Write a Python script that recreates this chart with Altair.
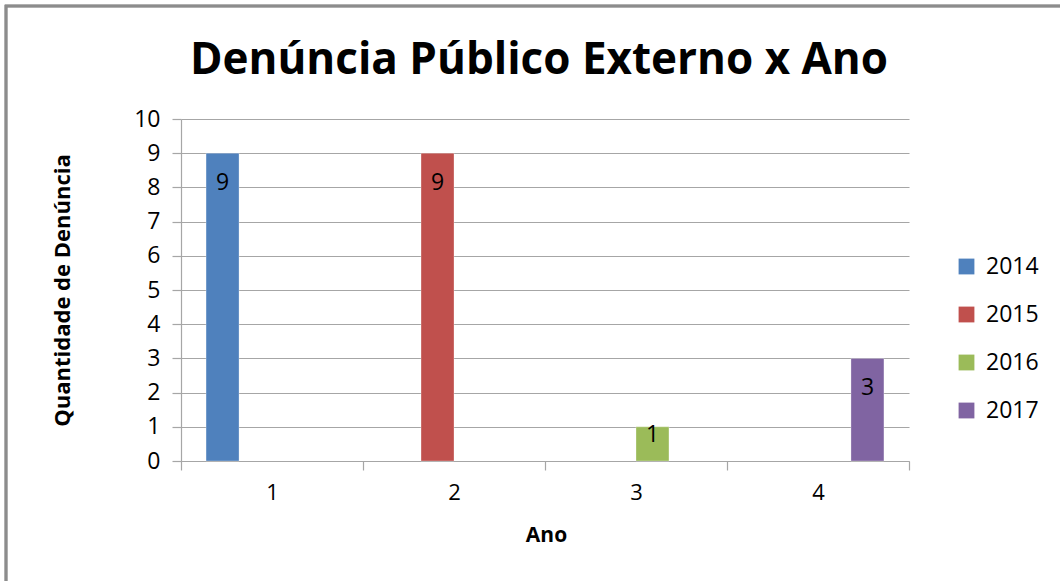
import altair as alt
import pandas as pd

# Complaints from the external public, one bar per year
anos = [1, 2, 3, 4]
series = ["2014", "2015", "2016", "2017"]
valores = [9, 9, 1, 3]
cores = ["#4F81BD", "#C0504D", "#9BBB59", "#8064A2"]
marcas_y = list(range(0, 11))

df = pd.DataFrame({"ano": anos, "serie": series, "valor": valores})

FONT = "Open Sans"
GRID = "#A6A6A6"

eixo_x = alt.Axis(
    labelAngle=0,
    tickBand="extent",
    tickSize=9,
    tickColor=GRID,
    domainColor=GRID,
    labelFontSize=22,
    labelFont=FONT,
    labelColor="#000000",
    labelPadding=12,
    titleFont=FONT,
    titleFontSize=21,
    titleFontWeight="bold",
    titleColor="#000000",
    titleX=365,
    titleY=74,
    titleBaseline="middle",
)

eixo_y = alt.Axis(
    values=marcas_y,
    labelOverlap=False,
    tickSize=9,
    tickColor=GRID,
    domainColor=GRID,
    gridColor=GRID,
    labelFontSize=23,
    labelFont=FONT,
    labelColor="#000000",
    labelPadding=12,
    titleFont=FONT,
    titleFontSize=22,
    titleFontWeight="bold",
    titleColor="#000000",
    titleAngle=270,
    titleX=-119,
    titleY=171,
    titleBaseline="middle",
    titleAlign="center",
)

escala_x = alt.Scale(paddingInner=0, paddingOuter=0)
escala_off = alt.Scale(domain=series, paddingOuter=0.76, paddingInner=0)
escala_y = alt.Scale(domain=[0, 10], nice=False)

base = alt.Chart(df)

bars = base.mark_bar(stroke="white", strokeWidth=0.6, strokeOpacity=0.5).encode(
    x=alt.X("ano:O", title="Ano", scale=escala_x, axis=eixo_x),
    xOffset=alt.XOffset("serie:N", scale=escala_off),
    y=alt.Y("valor:Q", title="Quantidade de Denúncia", scale=escala_y, axis=eixo_y),
    color=alt.Color(
        "serie:N",
        scale=alt.Scale(domain=series, range=cores),
        legend=alt.Legend(
            title=None,
            orient="none",
            legendX=774,
            legendY=136,
            symbolType="square",
            symbolSize=250,
            symbolStrokeWidth=0,
            labelFont=FONT,
            labelFontSize=23,
            labelColor="#000000",
            labelOffset=8,
            rowPadding=24,
        ),
    ),
)

# value labels sit just inside the top of each bar
labels = base.transform_calculate(
    pos="datum.valor > 1.5 ? datum.valor - 0.88 : datum.valor - 0.25"
).mark_text(font=FONT, fontSize=23, color="#000000", baseline="middle").encode(
    x=alt.X("ano:O", title="Ano", scale=escala_x, axis=eixo_x),
    xOffset=alt.XOffset("serie:N", scale=escala_off),
    y=alt.Y("pos:Q", title="Quantidade de Denúncia", scale=escala_y, axis=eixo_y),
    text=alt.Text("valor:Q"),
)

# outer frame of the chart area
frame = base.mark_rect(fill=None, stroke="#8C8C8C", strokeWidth=2.5).encode(
    x=alt.value(-175),
    x2=alt.value(885),
    y=alt.value(-113),
    y2=alt.value(470),
)

chart = (
    alt.layer(frame, bars, labels)
    .properties(
        width=728,
        height=342,
        padding={"left": 181, "top": 119, "right": 151, "bottom": 120},
        autosize=alt.AutoSizeParams(type="none"),
        title=alt.Title(
            "Denúncia Público Externo x Ano",
            font=FONT,
            fontSize=44,
            fontWeight="bold",
            color="#000000",
            anchor="middle",
            frame="group",
            baseline="alphabetic",
            dx=-6,
            offset=-113,
        ),
    )
    .configure_view(stroke=None)
    .configure_axis(gridWidth=1.2, domainWidth=1.2, tickWidth=1.2)
)

chart.save("out.html", embed_options={"renderer": "svg", "actions": False})
